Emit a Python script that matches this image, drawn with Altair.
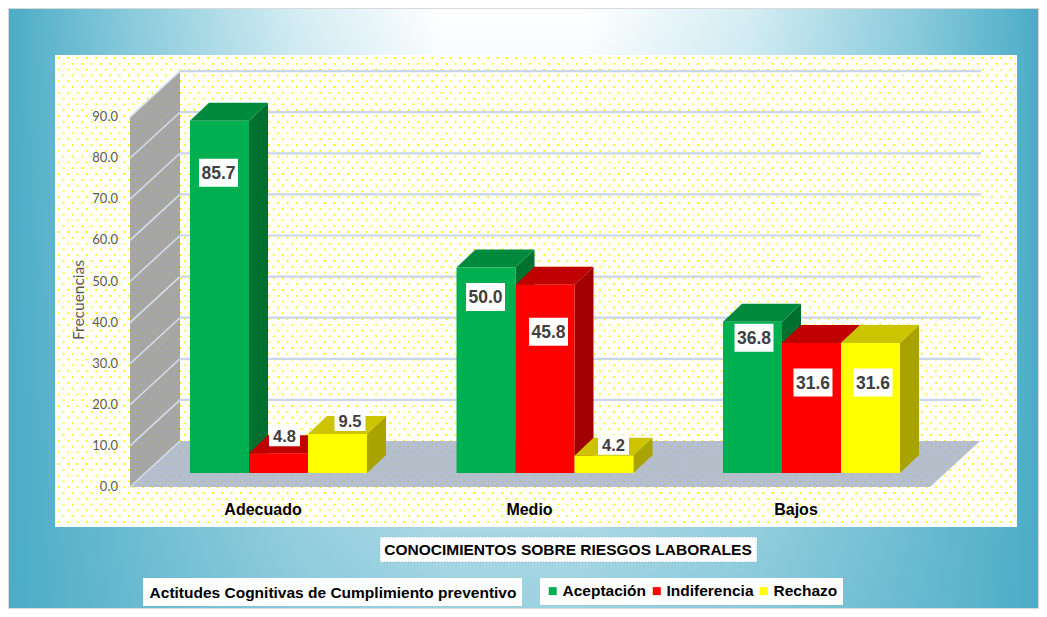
import altair as alt
import pandas as pd

# ---------------- data ----------------
categories = ["Adecuado", "Medio", "Bajos"]
series = ["Aceptación", "Indiferencia", "Rechazo"]
aceptacion = [85.7, 50.0, 36.8]
indiferencia = [4.8, 45.8, 31.6]
rechazo = [9.5, 4.2, 31.6]
y_ticks = [0, 10, 20, 30, 40, 50, 60, 70, 80, 90]
y_title = "Frecuencias"
x_title = "CONOCIMIENTOS SOBRE RIESGOS LABORALES"
legend_title = "Actitudes Cognitivas de Cumplimiento preventivo"

values = [aceptacion, indiferencia, rechazo]

# ---------------- styles / layout ----------------
FRONT = ["#00B050", "#FF0000", "#FFFF00"]
TOP = ["#008A3E", "#C00000", "#CCC400"]
SIDE = ["#00702F", "#A00000", "#A9A300"]
# label nudges in pixels [series][category]
LABEL_DX = [[-1, -0.5, 1.5], [6, 3.5, 1.5], [12.5, 9.5, 2.5]]
LABEL_DY = [[52, 29.5, 16], [-17, 47, 39.5], [-13, -11, 39.5]]

W, H = 1031, 601
K = 4.11          # px per unit
Y0 = 465          # pixel of value 0 on the bar front plane
BAR_W = 59
DX, DY = 19, 18   # bar depth
BACK = -32        # back plane offset
FEDGE = 14        # floor front edge offset
NARROW = "Liberation Sans, Arial, sans-serif"
CAL = "Lato, Open Sans, sans-serif"

rows = []
for i, s in enumerate(series):
    for j, c in enumerate(categories):
        v = values[i][j]
        rows.append({"cat": c, "series": s, "si": i, "ci": j, "value": v,
                     "label": f"{v:.1f}"})
df = pd.DataFrame(rows)
tick_df = pd.DataFrame({"tick": y_ticks, "tlabel": [f"{t:.1f}" for t in y_ticks]})
cat_df = pd.DataFrame({"cat": categories})
one = pd.DataFrame({"t": [0]})

XS = alt.Scale(type="band", domain=categories, range=[182, 892],
               paddingInner=0.3358, paddingOuter=0)
YS = alt.Scale(domain=[0, 90], range=[Y0, Y0 - 90 * K], nice=False, zero=False)
xenc = alt.X("cat:N", scale=XS, axis=None)

layers = []

# ---- background gradient frame ----
bg_h = {"gradient": "linear", "x1": 0, "y1": 0, "x2": 1, "y2": 0, "stops": [
    {"offset": 0, "color": "#4BACC6"},
    {"offset": 0.12, "color": "#8ACBDC"},
    {"offset": 0.28, "color": "#D4EDF3"},
    {"offset": 0.42, "color": "#FFFFFF"},
    {"offset": 0.56, "color": "#FFFFFF"},
    {"offset": 0.72, "color": "#D4EDF3"},
    {"offset": 0.88, "color": "#8ACBDC"},
    {"offset": 1, "color": "#4BACC6"}]}
bg_v = {"gradient": "linear", "x1": 0, "y1": 0, "x2": 0, "y2": 1, "stops": [
    {"offset": 0, "color": "rgba(75,172,198,0)"},
    {"offset": 0.1, "color": "rgba(75,172,198,0.05)"},
    {"offset": 1, "color": "rgba(75,172,198,0.55)"}]}
layers.append(alt.Chart(one).mark_rect(fill=bg_h, stroke="#D9D9D9", strokeWidth=2).encode(
    x=alt.value(0), x2=alt.value(W), y=alt.value(0), y2=alt.value(H)))
layers.append(alt.Chart(one).mark_rect(fill=bg_v).encode(
    x=alt.value(1), x2=alt.value(W - 1), y=alt.value(1), y2=alt.value(H - 1)))

# ---- plot panel ----
layers.append(alt.Chart(one).mark_rect(fill="white").encode(
    x=alt.value(47), x2=alt.value(1009), y=alt.value(47), y2=alt.value(519)))
for start, off in [(50.0, 0.0), (55.8, 4.67)]:
    layers.append(alt.Chart(alt.sequence(start, 519, 11.6, as_="py")).mark_rule(
        color="#FFFF00", strokeWidth=1.8, strokeDash=[1.8, 7.53], strokeDashOffset=off
    ).encode(x=alt.value(50), x2=alt.value(1008), y=alt.Y("py:Q", scale=None)))

# ---- wall & floor ----
HG = 90 * K
wall_path = f"M0,{FEDGE} L0,{FEDGE - HG:.1f} L50,{BACK - HG:.1f} L50,{BACK} Z"
floor_path = f"M0,{FEDGE} L800,{FEDGE} L850,{BACK} L50,{BACK} Z"
layers.append(alt.Chart(one).mark_point(shape=wall_path, size=4, filled=True, fill="#979797",
                                        opacity=0.85, strokeWidth=0).encode(
    x=alt.value(122), y=alt.Y(datum=0, scale=YS, axis=None)))
layers.append(alt.Chart(one).mark_point(shape=floor_path, size=4, filled=True, fill="#A7B3C3",
                                        opacity=0.85, strokeWidth=0).encode(
    x=alt.value(122), y=alt.Y(datum=0, scale=YS, axis=None)))

# ---- gridlines ----
layers.append(alt.Chart(tick_df).transform_filter(alt.datum.tick > 0).mark_rule(
    color="#C9D5EA", strokeWidth=2.2, yOffset=BACK).encode(
    x=alt.value(172), x2=alt.value(973), y=alt.Y("tick:Q", scale=YS, axis=None)))
layers.append(alt.Chart(tick_df).mark_rule(
    color="#D5DFEE", strokeWidth=1.5, yOffset=FEDGE, y2Offset=BACK).encode(
    x=alt.value(122), x2=alt.value(172), y=alt.Y("tick:Q", scale=YS, axis=None),
    y2=alt.Y2("tick:Q")))

# ---- 3D bars ----
hw = BAR_W / 2
top_path = f"M{-hw},0 L{hw},0 L{hw + DX},{-DY} L{-hw + DX},{-DY} Z"
side_top = f"M{hw},0 L{hw + DX},{-DY} L{hw + DX},0.6 L{hw},0.6 Z"
side_bot = f"M{hw},0 L{hw},{-DY - 0.6} L{hw + DX},{-DY - 0.6} L{hw + DX},{-DY} Z"
for i, s in enumerate(series):
    d = alt.Chart(df).transform_filter(alt.datum.si == i)
    shift = (i - 1) * BAR_W
    yv = alt.Y("value:Q", scale=YS, axis=None)
    layers.append(d.mark_rule(strokeWidth=DX, color=SIDE[i], opacity=1,
                              xOffset=shift + hw + DX / 2, y2Offset=-DY).encode(
        x=xenc, y=yv, y2=alt.Y2(datum=0)))
    layers.append(d.mark_point(shape=side_bot, size=4, filled=True, fill=SIDE[i], opacity=1,
                               strokeWidth=0, xOffset=shift).encode(
        x=xenc, y=alt.Y(datum=0, scale=YS, axis=None)))
    layers.append(d.mark_point(shape=side_top, size=4, filled=True, fill=SIDE[i], opacity=1,
                               strokeWidth=0, xOffset=shift).encode(x=xenc, y=yv))
    layers.append(d.mark_point(shape=top_path, size=4, filled=True, fill=TOP[i], opacity=1,
                               strokeWidth=0, xOffset=shift).encode(x=xenc, y=yv))
    layers.append(d.mark_bar(width=BAR_W, color=FRONT[i], opacity=1, xOffset=shift).encode(
        x=xenc, y=yv, y2=alt.Y2(datum=0)))

# ---- value labels ----
box_long = "M-19.5,-14 L19.5,-14 L19.5,14 L-19.5,14 Z"
box_short = "M-15.5,-10 L15.5,-10 L15.5,10 L-15.5,10 Z"
for i, s in enumerate(series):
    for j, c in enumerate(categories):
        d = alt.Chart(df).transform_filter((alt.datum.si == i) & (alt.datum.ci == j))
        ox = (i - 1) * BAR_W + LABEL_DX[i][j]
        oy = LABEL_DY[i][j]
        shp = box_long if values[i][j] >= 10 else box_short
        fs = 17.5 if values[i][j] >= 10 else 16.5
        yv = alt.Y("value:Q", scale=YS, axis=None)
        layers.append(d.mark_point(shape=shp, size=4, filled=True, fill="white", opacity=1,
                                   strokeWidth=0, xOffset=ox, yOffset=oy).encode(x=xenc, y=yv))
        layers.append(d.mark_text(font=NARROW, fontSize=fs, fontWeight="bold", color="#404040",
                                  align="center", baseline="middle",
                                  xOffset=ox, yOffset=oy + 1).encode(
            x=xenc, y=yv, text="label:N"))

# ---- axis texts ----
layers.append(alt.Chart(tick_df).mark_text(font=CAL, fontSize=13, color="#595959",
                                          align="right", baseline="middle", yOffset=FEDGE).encode(
    x=alt.value(110), y=alt.Y("tick:Q", scale=YS, axis=None), text="tlabel:N"))
layers.append(alt.Chart(pd.DataFrame({"t": [y_title]})).mark_text(
    font=CAL, fontSize=15.5, color="#595959", angle=270, align="center", baseline="middle").encode(
    x=alt.value(71), y=alt.value(292), text="t:N"))
layers.append(alt.Chart(cat_df).mark_text(font=NARROW, fontSize=16, fontWeight="bold",
                                         color="black", align="center", baseline="middle",
                                         xOffset=-15.5).encode(
    x=xenc, y=alt.value(502), text="cat:N"))

# ---- bottom title boxes ----
layers.append(alt.Chart(one).mark_rect(fill="white", stroke="#8EB4E3", strokeWidth=1,
                                       strokeDash=[1, 2]).encode(
    x=alt.value(372), x2=alt.value(749), y=alt.value(529), y2=alt.value(554)))
layers.append(alt.Chart(pd.DataFrame({"t": [x_title]})).mark_text(
    font=NARROW, fontSize=15.5, fontWeight="bold", color="black", align="center",
    baseline="middle").encode(x=alt.value(560), y=alt.value(542), text="t:N"))
layers.append(alt.Chart(one).mark_rect(fill="white").encode(
    x=alt.value(135), x2=alt.value(514), y=alt.value(570), y2=alt.value(598)))
layers.append(alt.Chart(pd.DataFrame({"t": [legend_title]})).mark_text(
    font=NARROW, fontSize=15.5, fontWeight="bold", color="black", align="center",
    baseline="middle").encode(x=alt.value(325), y=alt.value(585), text="t:N"))

# ---- legend ----
layers.append(alt.Chart(pd.DataFrame({"series": series})).mark_square(size=1, opacity=1).encode(
    x=alt.value(-100), y=alt.value(-100),
    color=alt.Color("series:N", scale=alt.Scale(domain=series, range=FRONT),
                    legend=alt.Legend(orient="none", legendX=532, legendY=570,
                                      direction="horizontal", title=None,
                                      fillColor="white", padding=5,
                                      labelFont=NARROW, labelFontSize=15.5,
                                      labelFontWeight="bold", labelColor="black",
                                      symbolType="square", symbolSize=64,
                                      symbolOpacity=1, symbolStrokeWidth=0,
                                      labelOffset=2, columnPadding=2))))

chart = alt.layer(*layers).properties(
    width=W, height=H, padding=0, autosize=alt.AutoSizeParams(type="none")
).configure_view(stroke=None)

chart.save("out.html", embed_options={"renderer": "svg", "actions": False})
